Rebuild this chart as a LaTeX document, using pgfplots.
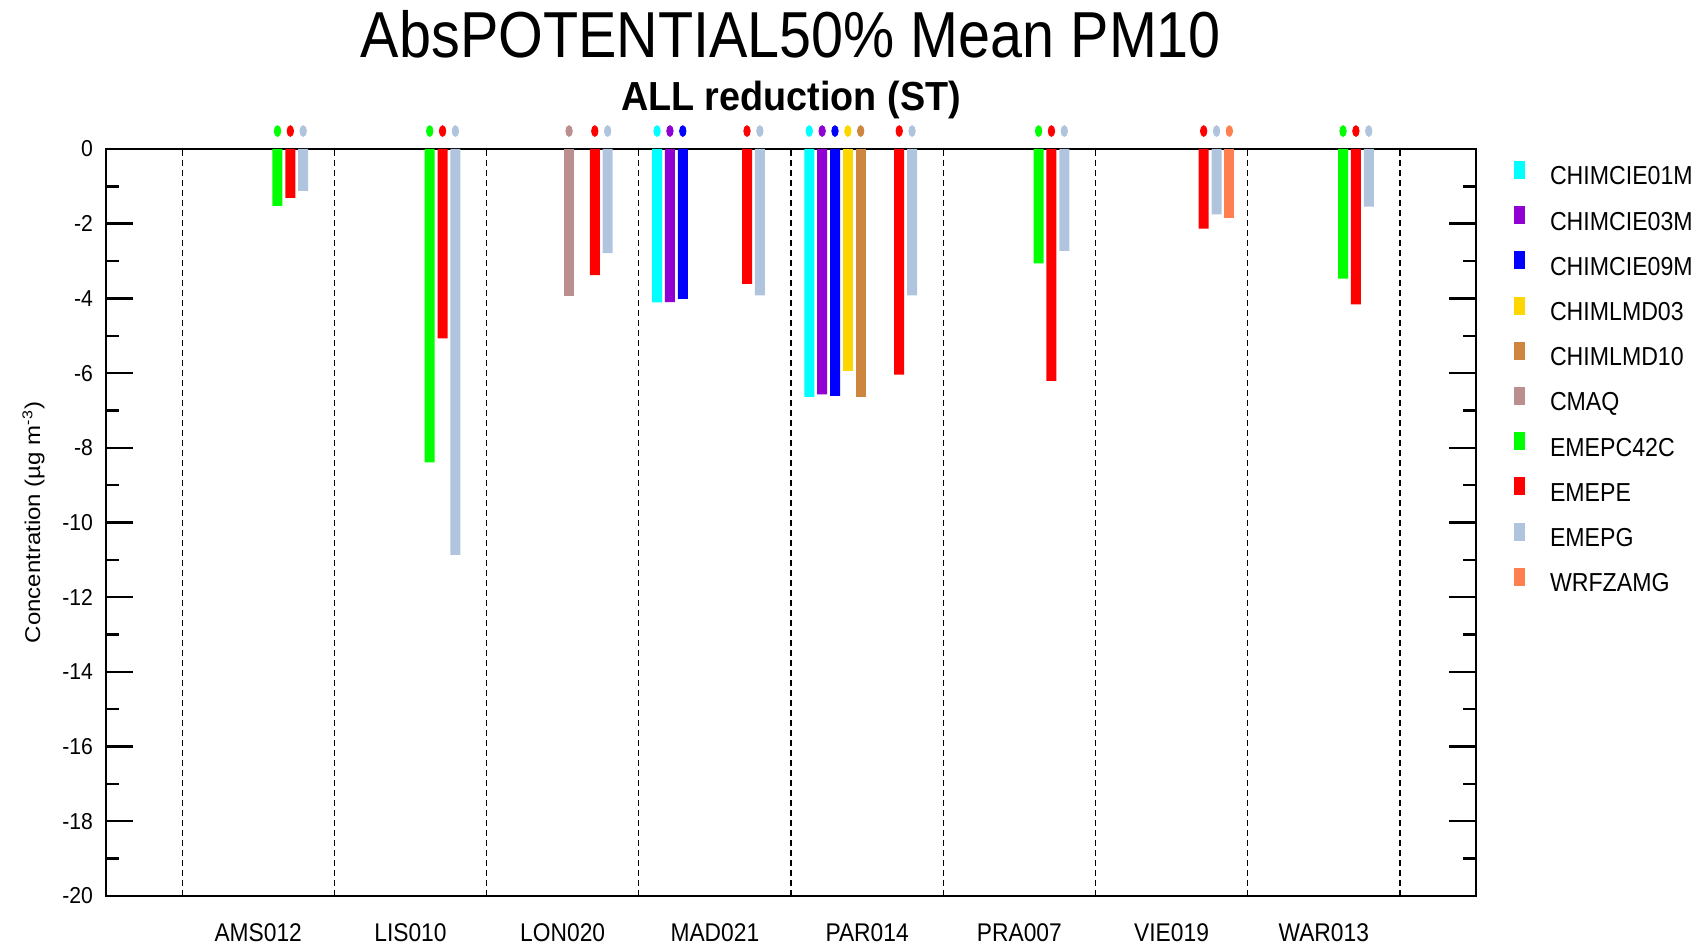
\documentclass[border=0pt]{standalone}
\usepackage{fontspec}
\setmainfont{Liberation Sans}
\usepackage{graphicx}
\usepackage{pgfplots}
\usepackage{pgfplotstable}
\pgfplotsset{compat=1.18}

\definecolor{cCIEa}{RGB}{0,255,255}
\definecolor{cCIEb}{RGB}{145,0,210}
\definecolor{cCIEc}{RGB}{0,0,255}
\definecolor{cLMDa}{RGB}{255,215,0}
\definecolor{cLMDb}{RGB}{205,133,63}
\definecolor{cCMAQ}{RGB}{188,143,143}
\definecolor{cCFFC}{RGB}{0,255,0}
\definecolor{cEMEPE}{RGB}{255,0,0}
\definecolor{cEMEPG}{RGB}{176,196,222}
\definecolor{cWRF}{RGB}{255,127,80}

\newcommand\cond[1]{\scalebox{0.89}[1]{#1}}

% PM10 concentration change per station (ug m-3); nan = model not available
\pgfplotstableread{
x  cie01  cie03  cie09  lmd03  lmd10  cmaq   c42c   emepe  emepg   wrf
1  nan    nan    nan    nan    nan    nan    -1.52  -1.31  -1.12   nan
2  nan    nan    nan    nan    nan    nan    -8.39  -5.07  -10.87  nan
3  nan    nan    nan    nan    nan    -3.93  nan    -3.38  -2.79   nan
4  -4.11  -4.10  -4.01  nan    nan    nan    nan    -3.61  -3.92   nan
5  -6.64  -6.57  -6.61  -5.95  -6.64  nan    nan    -6.04  -3.92   nan
6  nan    nan    nan    nan    nan    nan    -3.06  -6.21  -2.73   nan
7  nan    nan    nan    nan    nan    nan    nan    -2.13  -1.75   -1.86
8  nan    nan    nan    nan    nan    nan    -3.47  -4.16  -1.54   nan
}\data

\pgfplotsset{
  modelbar/.style={ybar, bar width=0.0657, bar shift=0pt, draw=none,
    legend image code/.code={\fill[##1, draw=none] (0pt,0pt) rectangle (5.5pt,9pt);}},
}

% one model: its bars at slot #3 of every station group, plus a dot above the frame
\newcommand\modelplot[3]{%
  \addplot[modelbar, fill=#2] table[x expr=\thisrow{x}+(#3-4.5)*0.0844, y=#1] {\data};
  \addplot[forget plot, only marks, mark=*, mark size=2.7pt, color=#2,
    mark options={xscale=0.6, draw=none, fill=#2}]
    table[x expr=\thisrow{x}+(#3-4.5)*0.0844, y expr=(\thisrow{#1})/(\thisrow{#1})*0.48] {\data};
}

\begin{document}
\begin{tikzpicture}
\begin{axis}[
  name=ax,
  scale only axis,
  width=685pt, height=373.5pt,
  xmin=0, xmax=9, ymin=-20, ymax=0,
  clip=false,
  axis line style={line width=1.3pt},
  xtick={1,...,8},
  xticklabels={\cond{AMS012},\cond{LIS010},\cond{LON020},\cond{MAD021},\cond{PAR014},\cond{PRA007},\cond{VIE019},\cond{WAR013}},
  xticklabel style={font=\fontsize{12.8}{14}\selectfont, inner sep=0pt, anchor=north, yshift=-13.5pt},
  xtick style={draw=none},
  extra x ticks={0.5,1.5,2.5,3.5,4.5,5.5,6.5,7.5,8.5},
  extra x tick labels={},
  extra x tick style={grid=major, major tick length=0pt,
    major grid style={black, line width=0.6pt, dash pattern=on 3pt off 2pt}},
  ytick={-20,-18,...,0},
  minor y tick num=1,
  ytick pos=both, yticklabel pos=left,
  tick align=inside,
  major tick length=13.3pt, minor tick length=6.3pt,
  ytick style={black, line width=1.2pt},
  /pgf/number format/assume math mode=true,
  yticklabel={\scalebox{0.92}[1]{\pgfmathprintnumber{\tick}}},
  yticklabel style={font=\fontsize{11.5}{13}\selectfont, inner sep=0pt, anchor=east, xshift=-6.3pt},
  ylabel={\scalebox{1}[0.89]{Concentration (µg m\textsuperscript{-3})}},
  ylabel style={at={(axis description cs:-0.053,0.5)}, anchor=center, font=\fontsize{12}{14}\selectfont},
  legend style={draw=none, fill=none, inner sep=0pt, outer sep=0pt,
    at={(1,1)}, anchor=north west, xshift=19pt, yshift=-6pt,
    row sep=7.6pt, column sep=12.5pt, font=\fontsize{13}{14}\selectfont,
    nodes={inner sep=0pt, text height=9pt, text depth=3pt}},
  legend cell align=left,
]
\modelplot{cie01}{cCIEa}{0}
\modelplot{cie03}{cCIEb}{1}
\modelplot{cie09}{cCIEc}{2}
\modelplot{lmd03}{cLMDa}{3}
\modelplot{lmd10}{cLMDb}{4}
\modelplot{cmaq}{cCMAQ}{5}
\modelplot{c42c}{cCFFC}{6}
\modelplot{emepe}{cEMEPE}{7}
\modelplot{emepg}{cEMEPG}{8}
\modelplot{wrf}{cWRF}{9}
\legend{\cond{CHIMCIE01M},\cond{CHIMCIE03M},\cond{CHIMCIE09M},\cond{CHIMLMD03},\cond{CHIMLMD10},\cond{CMAQ},\cond{EMEPC42C},\cond{EMEPE},\cond{EMEPG},\cond{WRFZAMG}}
\end{axis}
\node[anchor=base, inner sep=0pt, font=\fontsize{32.5}{36}\selectfont]
  at ([yshift=45.8pt]ax.north) {\scalebox{0.885}[1]{AbsPOTENTIAL50\% Mean PM10}};
\node[anchor=base, inner sep=0pt, font=\bfseries\fontsize{20.3}{24}\selectfont]
  at ([yshift=19.2pt]ax.north) {\scalebox{0.93}[1]{ALL reduction (ST)}};
\pgfresetboundingbox
\path ([xshift=-53pt,yshift=-25pt]ax.south west) rectangle ([xshift=110pt,yshift=74.5pt]ax.north east);
\end{tikzpicture}
\end{document}
